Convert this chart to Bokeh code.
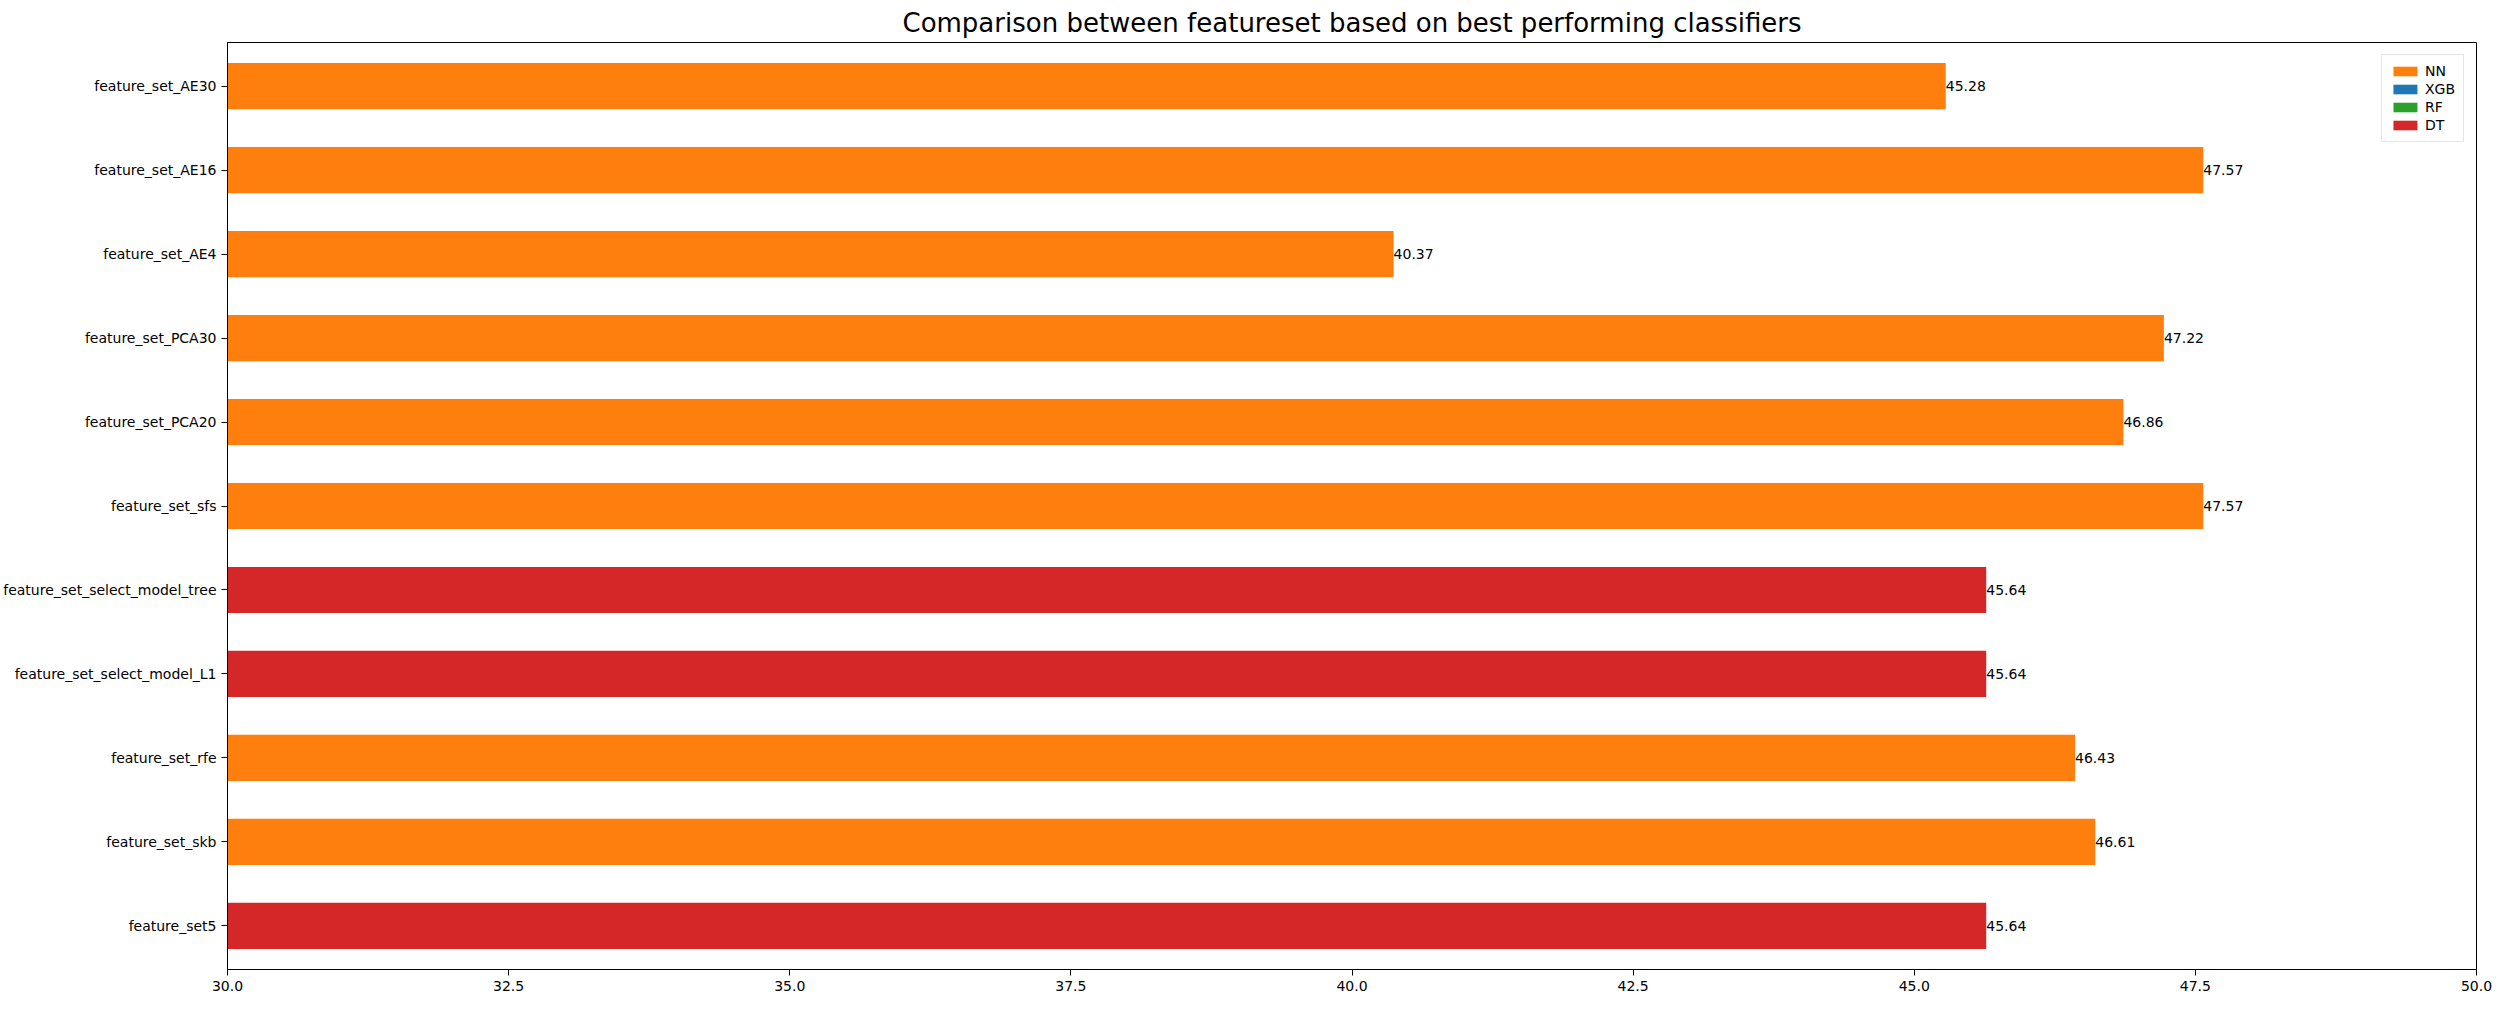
from bokeh.plotting import figure
from bokeh.models import ColumnDataSource, Range1d, FixedTicker, Legend, LegendItem
from bokeh.core.properties import value
from bokeh.embed import file_html
from bokeh.resources import INLINE

categories = ["feature_set_AE30", "feature_set_AE16", "feature_set_AE4", "feature_set_PCA30",
              "feature_set_PCA20", "feature_set_sfs", "feature_set_select_model_tree",
              "feature_set_select_model_L1", "feature_set_rfe", "feature_set_skb", "feature_set5"]
values = [45.28, 47.57, 40.37, 47.22, 46.86, 47.57, 45.64, 45.64, 46.43, 46.61, 45.64]
classifiers = ["NN", "NN", "NN", "NN", "NN", "NN", "DT", "DT", "NN", "NN", "DT"]
legend_names = ["NN", "XGB", "RF", "DT"]
colors = {"NN": "#ff7f0e", "XGB": "#1f77b4", "RF": "#2ca02c", "DT": "#d62728"}
x_ticks = [30.0, 32.5, 35.0, 37.5, 40.0, 42.5, 45.0, 47.5, 50.0]

n = len(categories)
ypos = list(range(n))
src = ColumnDataSource(dict(y=ypos, v=values, cls=classifiers,
                            col=[colors[c] for c in classifiers],
                            lab=["%.2f" % v for v in values],
                            left=[30.0] * n))

p = figure(width=2495, height=995, output_backend="svg", toolbar_location=None,
           x_range=Range1d(30, 50), y_range=Range1d(n - 0.48, -0.52),
           title="Comparison between featureset based on best performing classifiers",
           min_border_left=224, min_border_right=19, min_border_top=20, min_border_bottom=26)
p.title.align = "center"
p.title.text_font = "DejaVu Sans"
p.title.text_font_size = "26px"
p.title.text_font_style = "normal"
p.title.text_color = "black"

p.hbar(y="y", left="left", right="v", height=0.55, fill_color="col", line_color=None, source=src)
p.text(x="v", y="y", text="lab", source=src, text_align="left", text_baseline="middle",
       text_font_size="14px", text_font=value("DejaVu Sans"), text_font_style="normal",
       text_color="black")

items = []
for name in legend_names:
    r = p.rect(x=[-100], y=[-100], width=1, height=1, fill_color=colors[name], line_color=None)
    items.append(LegendItem(label=name, renderers=[r]))
leg = Legend(items=items, location="top_right", label_text_font="DejaVu Sans",
             label_text_font_size="14px", label_text_color="black", glyph_width=30, glyph_height=12,
             border_line_color="#cccccc", spacing=2, padding=8, margin=12, label_height=16)
p.add_layout(leg)

p.xaxis.ticker = FixedTicker(ticks=x_ticks)
p.xaxis.major_label_overrides = {t: "%.1f" % t for t in x_ticks}
p.yaxis.ticker = FixedTicker(ticks=ypos)
p.yaxis.major_label_overrides = {i: c for i, c in enumerate(categories)}
for ax in (p.xaxis, p.yaxis):
    ax.major_label_text_font = "DejaVu Sans"
    ax.major_label_text_font_size = "14px"
    ax.major_label_text_color = "black"
    ax.minor_tick_line_color = None
    ax.major_tick_out = 6
    ax.major_tick_in = 0
    ax.axis_line_color = "black"
    ax.major_tick_line_color = "black"
p.xgrid.grid_line_color = None
p.ygrid.grid_line_color = None
p.outline_line_color = "black"
p.outline_line_alpha = 1

open("out.html", "w").write(file_html(p, INLINE))
